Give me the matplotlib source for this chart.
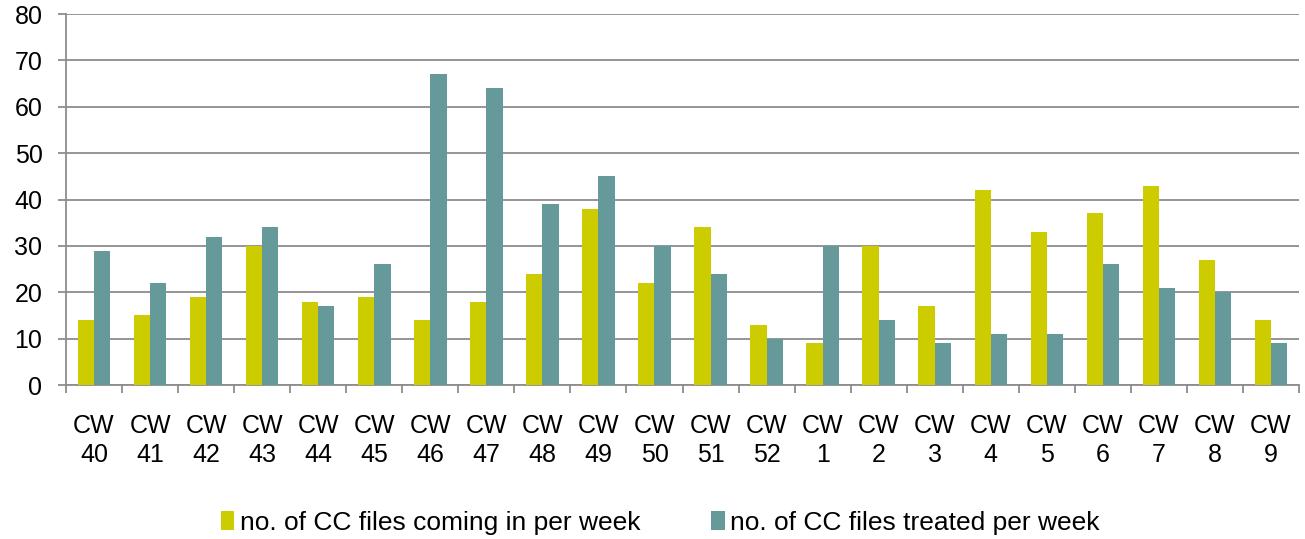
import matplotlib
matplotlib.use("Agg")
import matplotlib.pyplot as plt
import numpy as np

weeks = ["40", "41", "42", "43", "44", "45", "46", "47", "48", "49", "50",
         "51", "52", "1", "2", "3", "4", "5", "6", "7", "8", "9"]
coming_in = [14, 15, 19, 30, 18, 19, 14, 18, 24, 38, 22, 34, 13, 9, 30, 17, 42, 33, 37, 43, 27, 14]
treated = [29, 22, 32, 34, 17, 26, 67, 64, 39, 45, 30, 24, 10, 30, 14, 9, 11, 11, 26, 21, 20, 9]

plt.rcParams['font.family'] = ['Liberation Sans', 'DejaVu Sans']

fig = plt.figure(figsize=(13.05, 5.39), dpi=100)
ax = fig.add_axes([0.0506, 0.2857, 0.9448, 0.6883])

x = np.arange(len(weeks))
w = 0.29
ax.bar(x - w / 2, coming_in, w, color='#CCCC00', label='no. of CC files coming in per week', zorder=3)
ax.bar(x + w / 2, treated, w, color='#669999', label='no. of CC files treated per week', zorder=3)

ax.set_xlim(-0.5, len(weeks) - 0.5)
ax.set_ylim(0, 80)
ax.set_yticks(range(0, 81, 10))
ax.yaxis.grid(True, color='#8c8c8c', linewidth=1.3, zorder=0)

# category boundaries as tick marks, labels at centres
ax.set_xticks(np.arange(-0.5, len(weeks), 1.0))
ax.set_xticklabels([])
ax.set_xticks(x, minor=True)
ax.set_xticklabels(["CW\n" + wk for wk in weeks], minor=True, fontsize=18, linespacing=1.25)
ax.tick_params(axis='x', which='major', direction='out', length=6, width=1.3, color='#8c8c8c')
ax.tick_params(axis='x', which='minor', length=0, pad=21)
ax.tick_params(axis='y', direction='out', length=6, width=1.3, color='#8c8c8c', labelsize=18, pad=11)

for s in ['top', 'right']:
    ax.spines[s].set_visible(False)
for s in ['left', 'bottom']:
    ax.spines[s].set_color('#8c8c8c')
    ax.spines[s].set_linewidth(1.3)

fig.legend(loc='center', bbox_to_anchor=(0.506, 0.03), ncol=2, frameon=False,
           fontsize=19, handlelength=0.5, handleheight=0.7, handletextpad=0.2,
           columnspacing=2.7)

fig.savefig('out.png', dpi=100)
